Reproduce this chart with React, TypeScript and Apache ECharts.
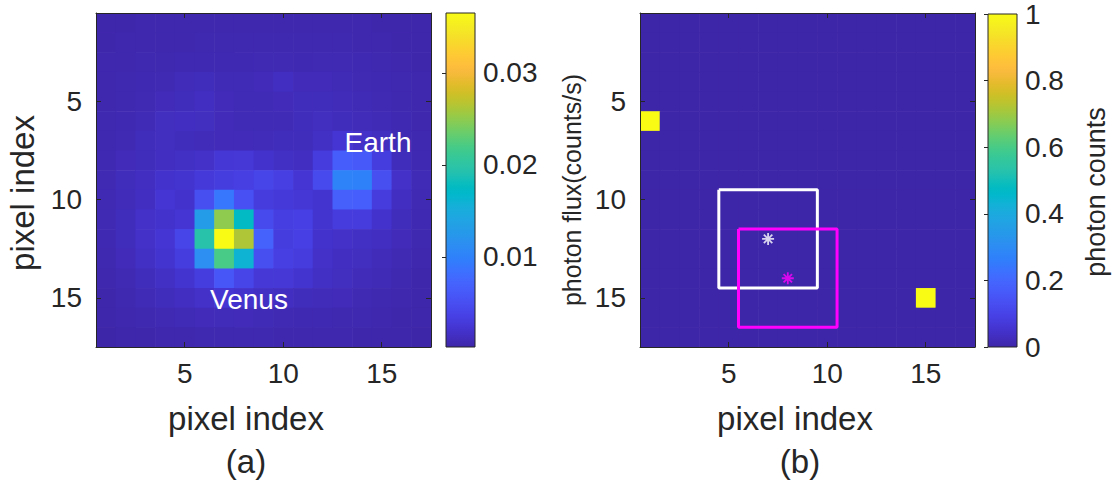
import React, { useEffect, useRef } from "react";
import * as echarts from "echarts";

// ---------- data ----------
const pixelIndex = [1, 2, 3, 4, 5, 6, 7, 8, 9, 10, 11, 12, 13, 14, 15, 16, 17];
const tickValues = [5, 10, 15];
const fluxTicks = [0.01, 0.02, 0.03];
const countTicks = [0, 0.2, 0.4, 0.6, 0.8, 1];

// photon flux (counts/s), in units of 1e-3; row = y pixel index 1..17, col = x pixel index 1..17
const FLUX_UNIT = 1e-3;
const fluxRows: number[][] = [
  [0.4, 0.4, 0.5, 0.5, 0.5, 0.5, 0.5, 0.5, 0.5, 0.5, 0.5, 0.5, 0.5, 0.5, 0.4, 0.4, 0.3],
  [0.4, 0.5, 0.5, 0.5, 0.5, 0.6, 0.6, 0.6, 0.6, 0.6, 0.6, 0.6, 0.6, 0.5, 0.5, 0.4, 0.4],
  [0.5, 0.5, 0.6, 0.6, 0.7, 0.7, 0.7, 0.7, 0.8, 0.8, 0.7, 0.8, 0.8, 0.7, 0.6, 0.5, 0.4],
  [0.5, 0.6, 0.7, 0.8, 1.1, 1.2, 0.9, 0.9, 1.0, 1.4, 1.0, 1.0, 0.9, 0.8, 0.7, 0.6, 0.5],
  [0.5, 0.6, 0.8, 1.0, 1.2, 1.4, 1.0, 0.9, 0.9, 1.0, 1.2, 1.2, 1.1, 0.9, 0.8, 0.6, 0.5],
  [0.6, 0.7, 0.9, 1.3, 1.5, 1.3, 1.0, 0.9, 0.9, 0.9, 1.2, 1.3, 1.2, 1.1, 0.9, 0.7, 0.5],
  [0.6, 0.8, 1.2, 1.3, 1.2, 1.1, 1.0, 1.0, 1.1, 1.2, 1.2, 1.6, 2.4, 1.8, 1.3, 0.8, 0.6],
  [0.7, 1.0, 1.2, 1.4, 1.6, 1.8, 2.5, 2.6, 2.0, 1.6, 1.5, 3.0, 6.5, 6.2, 3.2, 1.2, 0.7],
  [0.8, 1.2, 1.4, 2.0, 2.2, 2.8, 3.2, 3.4, 4.0, 3.4, 2.4, 4.5, 10.2, 10.0, 5.0, 1.8, 0.9],
  [0.8, 1.1, 1.5, 2.4, 2.0, 5.0, 9.0, 5.2, 3.0, 2.8, 2.5, 2.2, 6.8, 6.6, 3.0, 1.4, 0.8],
  [0.8, 1.2, 1.8, 2.0, 2.4, 13.0, 25.0, 17.5, 4.5, 3.3, 3.5, 2.2, 3.0, 3.0, 2.0, 1.2, 0.7],
  [0.7, 1.2, 1.8, 2.4, 4.0, 19.5, 36.5, 26.3, 7.0, 3.2, 3.5, 2.0, 1.8, 1.6, 1.4, 1.0, 0.6],
  [0.6, 1.0, 1.6, 2.2, 3.2, 11.5, 22.0, 16.0, 5.0, 3.4, 3.0, 1.8, 1.5, 1.3, 1.1, 0.8, 0.5],
  [0.5, 0.8, 1.2, 1.6, 2.2, 3.2, 5.8, 4.0, 2.6, 2.6, 2.2, 1.6, 1.3, 1.1, 0.9, 0.6, 0.4],
  [0.4, 0.6, 0.9, 1.2, 1.4, 1.8, 2.4, 2.0, 1.6, 1.4, 1.2, 1.1, 1.0, 0.8, 0.6, 0.5, 0.3],
  [0.3, 0.5, 0.6, 0.8, 0.9, 1.0, 1.1, 1.0, 0.9, 0.8, 0.7, 0.7, 0.6, 0.6, 0.5, 0.4, 0.3],
  [0.22, 0.3, 0.4, 0.5, 0.5, 0.6, 0.6, 0.6, 0.6, 0.5, 0.5, 0.5, 0.5, 0.4, 0.4, 0.3, 0.22],
];

// photon counts image (b): pixels that received one photon, [x, y]
const photonHits: number[][] = [
  [1, 6],
  [15, 15],
];

// boxes and centroid markers in (b): [x, y] centers, box half-size in pixels
const whiteCenter = [7, 12];
const magentaCenter = [8, 14];
const boxHalf = 2.5;

// MATLAB parula colormap (64 entries)
const parula: number[][] = [
  [0.2422, 0.1504, 0.6603], [0.2504, 0.165, 0.7076], [0.2578, 0.1818, 0.7511], [0.2647, 0.1978, 0.7952],
  [0.2706, 0.2147, 0.8364], [0.2751, 0.2342, 0.871], [0.2783, 0.2559, 0.8991], [0.2803, 0.2782, 0.9221],
  [0.2813, 0.3006, 0.9414], [0.281, 0.3228, 0.9579], [0.2795, 0.3447, 0.9717], [0.276, 0.3667, 0.9829],
  [0.2699, 0.3892, 0.9906], [0.2602, 0.4123, 0.9952], [0.244, 0.4358, 0.9988], [0.2206, 0.4603, 0.9973],
  [0.1963, 0.4847, 0.9892], [0.1834, 0.5074, 0.9798], [0.1786, 0.5289, 0.9682], [0.1764, 0.5499, 0.952],
  [0.1687, 0.5703, 0.9359], [0.154, 0.5902, 0.9218], [0.146, 0.6091, 0.9079], [0.138, 0.6276, 0.8973],
  [0.1248, 0.6459, 0.8883], [0.1113, 0.6635, 0.8763], [0.0952, 0.6798, 0.8598], [0.0689, 0.6948, 0.8394],
  [0.0297, 0.7082, 0.8163], [0.0036, 0.7203, 0.7917], [0.0067, 0.7312, 0.766], [0.0433, 0.7411, 0.7394],
  [0.0964, 0.75, 0.712], [0.1408, 0.7584, 0.6842], [0.1717, 0.767, 0.6554], [0.1938, 0.7758, 0.6251],
  [0.2161, 0.7843, 0.5923], [0.247, 0.7918, 0.5567], [0.2906, 0.7973, 0.5188], [0.3406, 0.8008, 0.4789],
  [0.3909, 0.8029, 0.4354], [0.4456, 0.8024, 0.3909], [0.5044, 0.7993, 0.348], [0.5616, 0.7942, 0.3045],
  [0.6174, 0.7876, 0.2612], [0.672, 0.7793, 0.2227], [0.7242, 0.7698, 0.191], [0.7738, 0.7598, 0.1646],
  [0.8203, 0.7498, 0.1535], [0.8634, 0.7406, 0.1596], [0.9035, 0.733, 0.1774], [0.9393, 0.7288, 0.21],
  [0.9728, 0.7298, 0.2394], [0.9956, 0.7434, 0.2371], [0.997, 0.7659, 0.2199], [0.9952, 0.7893, 0.2028],
  [0.9892, 0.8136, 0.1885], [0.9786, 0.8386, 0.1766], [0.9676, 0.8639, 0.1643], [0.961, 0.889, 0.1537],
  [0.9597, 0.9135, 0.1423], [0.9628, 0.9373, 0.1265], [0.9691, 0.9606, 0.1064], [0.9769, 0.9839, 0.0805],
];

// ---------- helpers ----------
const FONT = "'Liberation Sans', Arial, Helvetica, sans-serif";
const INK = "#262626";
const parulaColors = parula.map(
  (c) => `rgb(${Math.round(c[0] * 255)},${Math.round(c[1] * 255)},${Math.round(c[2] * 255)})`
);
const gradientStops = parulaColors.map((color, i) => ({ offset: i / (parulaColors.length - 1), color }));

const fluxData: number[][] = [];
fluxRows.forEach((row, r) =>
  row.forEach((v, c) => fluxData.push([pixelIndex[c], pixelIndex[r], v * FLUX_UNIT]))
);
const fluxValues = fluxData.map((d) => d[2]);
const fluxMin = Math.min(...fluxValues);
const fluxMax = Math.max(...fluxValues);

const countData: number[][] = [];
pixelIndex.forEach((y) =>
  pixelIndex.forEach((x) => {
    const hit = photonHits.some((h) => h[0] === x && h[1] === y);
    countData.push([x, y, hit ? 1 : 0]);
  })
);
const countMin = 0;
const countMax = 1;

const boxPath = (c: number[]) => [
  [c[0] - boxHalf, c[1] - boxHalf],
  [c[0] + boxHalf, c[1] - boxHalf],
  [c[0] + boxHalf, c[1] + boxHalf],
  [c[0] - boxHalf, c[1] + boxHalf],
  [c[0] - boxHalf, c[1] - boxHalf],
];

const ASTERISK =
  "path://M8.5 0L11.5 0L11.5 20L8.5 20Z M0 8.5L20 8.5L20 11.5L0 11.5Z M1.9 4L4 1.9L18.1 16L16 18.1Z M16 1.9L18.1 4L4 18.1L1.9 16Z";

const cellRender = (params: any, api: any) => {
  const x = api.value(0);
  const y = api.value(1);
  const p0 = api.coord([x - 0.5, y - 0.5]);
  const p1 = api.coord([x + 0.5, y + 0.5]);
  return {
    type: "rect",
    shape: {
      x: Math.min(p0[0], p1[0]),
      y: Math.min(p0[1], p1[1]),
      width: Math.abs(p1[0] - p0[0]) + 0.6,
      height: Math.abs(p1[1] - p0[1]) + 0.6,
    },
    style: { fill: api.visual("color") },
  };
};

const colorbarRender = (lo: number, hi: number) => (params: any, api: any) => {
  const pb = api.coord([0, lo]);
  const pt = api.coord([1, hi]);
  return {
    type: "rect",
    shape: { x: pb[0], y: pt[1], width: pt[0] - pb[0], height: pb[1] - pt[1] },
    style: {
      fill: new echarts.graphic.LinearGradient(0, 1, 0, 0, gradientStops),
      stroke: INK,
      lineWidth: 1,
    },
  };
};

const mainAxis = (gridIndex: number, position: string, showLabel: boolean, isY: boolean) => ({
  type: "value",
  gridIndex,
  position,
  min: 0.5,
  max: 17.5,
  inverse: isY,
  z: 5,
  axisLine: { show: true, onZero: false, lineStyle: { color: INK, width: 1 } },
  axisTick: { show: true, inside: true, length: 5, customValues: tickValues, lineStyle: { color: INK, width: 1 } },
  axisLabel: {
    show: showLabel,
    customValues: tickValues,
    fontSize: 28,
    color: INK,
    fontFamily: FONT,
    margin: isY ? 14 : 12,
  },
  splitLine: { show: false },
});

const hiddenAxis = (gridIndex: number) => ({
  type: "value",
  gridIndex,
  min: 0,
  max: 1,
  show: false,
});

const colorbarAxis = (gridIndex: number, lo: number, hi: number, ticks: number[], fmt: (v: number) => string) => ({
  type: "value",
  gridIndex,
  position: "right",
  min: lo,
  max: hi,
  z: 5,
  axisLine: { show: false },
  axisTick: { show: true, inside: true, length: 4, customValues: ticks, lineStyle: { color: INK, width: 1 } },
  axisLabel: {
    show: true,
    customValues: ticks,
    fontSize: 28,
    color: INK,
    fontFamily: FONT,
    margin: 8,
    formatter: fmt,
  },
  splitLine: { show: false },
});

const txt = (text: string, x: number, y: number, size: number, fill: string, rotate = false) => ({
  type: "text",
  x,
  y,
  rotation: rotate ? Math.PI / 2 : 0,
  z: 10,
  style: {
    text,
    fontSize: size,
    fontFamily: FONT,
    fill,
    align: "center",
    verticalAlign: "middle",
  },
});

export default function App() {
  const ref = useRef<HTMLDivElement>(null);

  useEffect(() => {
    document.body.style.margin = "0";
    if (!ref.current) return;
    const chart = echarts.init(ref.current, undefined, { renderer: "svg" });
    const option: any = {
      animation: false,
      backgroundColor: "#ffffff",
      textStyle: { fontFamily: FONT },
      grid: [
        { left: 96, top: 13, width: 335, height: 334 },
        { left: 446, top: 13, width: 29, height: 334 },
        { left: 640, top: 13, width: 335, height: 334 },
        { left: 988, top: 13, width: 29, height: 334 },
      ],
      xAxis: [
        mainAxis(0, "bottom", true, false),
        mainAxis(0, "top", false, false),
        hiddenAxis(1),
        mainAxis(2, "bottom", true, false),
        mainAxis(2, "top", false, false),
        hiddenAxis(3),
      ],
      yAxis: [
        mainAxis(0, "left", true, true),
        mainAxis(0, "right", false, true),
        colorbarAxis(1, fluxMin, fluxMax, fluxTicks, (v: number) => v.toFixed(2)),
        mainAxis(2, "left", true, true),
        mainAxis(2, "right", false, true),
        colorbarAxis(3, countMin, countMax, countTicks, (v: number) => String(Math.round(v * 10) / 10)),
      ],
      visualMap: [
        {
          type: "continuous",
          show: false,
          seriesIndex: 0,
          dimension: 2,
          min: fluxMin,
          max: fluxMax,
          inRange: { color: parulaColors },
        },
        {
          type: "continuous",
          show: false,
          seriesIndex: 1,
          dimension: 2,
          min: countMin,
          max: countMax,
          inRange: { color: parulaColors },
        },
      ],
      series: [
        {
          type: "custom",
          xAxisIndex: 0,
          yAxisIndex: 0,
          clip: true,
          encode: { x: 0, y: 1 },
          data: fluxData,
          renderItem: cellRender,
        },
        {
          type: "custom",
          xAxisIndex: 3,
          yAxisIndex: 3,
          clip: true,
          encode: { x: 0, y: 1 },
          data: countData,
          renderItem: cellRender,
        },
        {
          type: "custom",
          xAxisIndex: 2,
          yAxisIndex: 2,
          data: [[0, fluxMin, fluxMax]],
          renderItem: colorbarRender(fluxMin, fluxMax),
        },
        {
          type: "custom",
          xAxisIndex: 5,
          yAxisIndex: 5,
          data: [[0, countMin, countMax]],
          renderItem: colorbarRender(countMin, countMax),
        },
        {
          type: "line",
          xAxisIndex: 3,
          yAxisIndex: 3,
          data: boxPath(whiteCenter),
          symbol: "none",
          z: 4,
          lineStyle: { color: "#ffffff", width: 3 },
        },
        {
          type: "line",
          xAxisIndex: 3,
          yAxisIndex: 3,
          data: boxPath(magentaCenter),
          symbol: "none",
          z: 4,
          lineStyle: { color: "#ff00ff", width: 3 },
        },
        {
          type: "scatter",
          xAxisIndex: 3,
          yAxisIndex: 3,
          data: [whiteCenter],
          symbol: ASTERISK,
          symbolSize: 12,
          z: 4,
          itemStyle: { color: "#ffffff" },
        },
        {
          type: "scatter",
          xAxisIndex: 3,
          yAxisIndex: 3,
          data: [magentaCenter],
          symbol: ASTERISK,
          symbolSize: 12,
          z: 4,
          itemStyle: { color: "#ff00ff" },
        },
      ],
      graphic: [
        txt("pixel index", 22, 193, 33, INK, true),
        txt("pixel index", 246, 418, 33, INK),
        txt("(a)", 246, 461, 33, INK),
        txt("Earth", 378, 142, 28, "#ffffff"),
        txt("Venus", 249, 299, 28, "#ffffff"),
        txt("photon flux(counts/s)", 572, 190, 25, INK, true),
        txt("pixel index", 795, 418, 33, INK),
        txt("(b)", 800, 461, 33, INK),
        txt("photon counts", 1096, 192, 27, INK, true),
      ],
    };
    chart.setOption(option);
    return () => chart.dispose();
  }, []);

  return <div ref={ref} style={{ width: 1112, height: 483 }} />;
}
